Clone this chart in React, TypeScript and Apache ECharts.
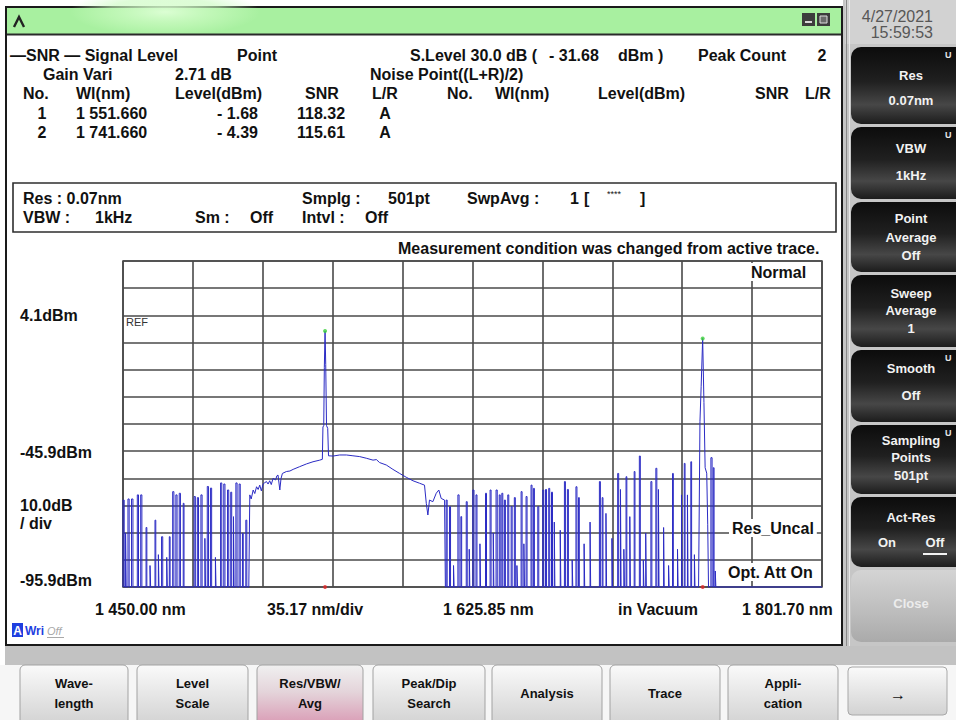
import React, { useEffect, useRef } from "react";
import * as echarts from "echarts";

// ---------- axis ranges ----------
const X_MIN = 1450.0;
const X_MAX = 1801.7;
const Y_MIN = -95.9;
const Y_MAX = 24.1;
const FLOOR = -95.9;
const X_DIVS = 10;
const Y_DIVS = 12;

// ---------- trace data ----------
// noise bursts left of the ASE hump: [start nm, end nm, level dBm]
const leftBursts: [number, number, number][] = [
  [1450.0, 1450.6, -63.9], [1451.3, 1451.6, -76.0], [1452.5, 1453.1, -63.5],
  [1454.3, 1455.0, -63.5], [1457.2, 1457.8, -62.0], [1458.9, 1459.5, -62.0],
  [1461.6, 1462.0, -74.0], [1463.6, 1463.9, -88.0], [1466.1, 1466.5, -71.3],
  [1467.8, 1468.1, -84.0], [1469.4, 1470.0, -77.4], [1472.0, 1472.3, -85.0],
  [1473.3, 1473.7, -77.4], [1475.0, 1475.6, -60.8], [1476.6, 1477.2, -62.0],
  [1478.3, 1478.9, -61.4], [1480.3, 1480.7, -65.1], [1485.8, 1486.4, -62.6],
  [1487.4, 1488.0, -63.0], [1489.2, 1489.8, -62.0], [1491.2, 1491.5, -78.0],
  [1492.4, 1493.0, -58.9], [1494.0, 1494.6, -59.5], [1496.5, 1496.8, -85.0],
  [1499.1, 1499.7, -57.6], [1500.7, 1501.3, -58.0], [1502.6, 1503.2, -60.2],
  [1504.2, 1504.7, -61.0], [1505.6, 1505.9, -70.0], [1506.8, 1507.4, -57.6],
  [1508.4, 1509.0, -58.0], [1510.1, 1510.5, -76.1], [1511.8, 1512.3, -71.3],
];

// ASE hump with the first signal peak: [nm, dBm]
const humpPoints: [number, number][] = [
  [1513.3, -95.9], [1513.8, -62.0], [1514.5, -63.5], [1515.5, -60.2], [1516.3, -61.5],
  [1517.2, -59.0], [1518.0, -60.0], [1518.8, -58.4], [1519.6, -60.5], [1520.5, -58.0],
  [1521.3, -57.5], [1522.2, -57.1], [1523.0, -58.0], [1523.8, -56.8], [1524.6, -58.2],
  [1525.5, -55.9], [1526.8, -56.5], [1527.4, -55.0], [1528.0, -54.7], [1528.9, -60.2],
  [1529.5, -56.0], [1530.2, -54.1], [1532.2, -53.4], [1534.0, -53.2], [1535.6, -52.6],
  [1538.9, -51.6], [1542.3, -50.6], [1545.6, -49.8], [1549.0, -49.2], [1550.3, -48.9],
  [1550.6, -37.0], [1551.0, -36.5], [1551.3, -15.0], [1551.66, -1.68], [1552.0, -14.0],
  [1552.4, -36.5], [1553.0, -37.5], [1553.4, -47.6], [1555.7, -47.7], [1559.0, -47.3],
  [1562.4, -47.3], [1565.7, -47.6], [1569.1, -47.9], [1572.4, -48.5], [1575.8, -49.2],
  [1577.5, -49.0], [1579.1, -50.1], [1582.5, -51.0], [1585.8, -52.6], [1589.2, -54.1],
  [1592.5, -55.5], [1595.9, -56.8], [1599.2, -57.7], [1601.7, -58.4], [1602.6, -65.1],
  [1603.4, -69.4], [1604.2, -63.9], [1605.9, -64.5], [1607.6, -61.4], [1608.9, -60.2],
  [1610.1, -63.3], [1611.8, -63.9], [1612.2, -95.9],
];

// noise bursts right of the hump
const rightBursts: [number, number, number][] = [
  [1612.6, 1613.1, -63.9], [1614.3, 1614.8, -66.3], [1616.3, 1616.6, -88.0],
  [1618.5, 1619.1, -62.0], [1620.0, 1620.4, -70.0], [1622.7, 1623.2, -64.5],
  [1624.2, 1624.5, -82.0], [1626.0, 1626.6, -60.2], [1627.6, 1628.1, -62.0],
  [1629.6, 1629.9, -80.0], [1632.4, 1632.9, -61.4], [1634.7, 1635.2, -60.2],
  [1636.3, 1636.6, -76.0], [1637.7, 1638.3, -60.2], [1639.3, 1639.8, -62.0],
  [1640.6, 1641.1, -61.4], [1641.9, 1642.4, -63.9], [1643.6, 1644.1, -62.0],
  [1645.3, 1645.8, -66.3], [1646.9, 1647.4, -63.0], [1648.2, 1648.5, -88.0],
  [1650.3, 1650.8, -60.8], [1651.7, 1652.0, -80.0], [1652.8, 1653.3, -62.6],
  [1655.3, 1655.8, -58.4], [1656.5, 1657.0, -59.6], [1658.7, 1659.2, -66.3],
  [1661.2, 1661.7, -60.2], [1662.6, 1663.1, -60.0], [1664.2, 1664.7, -59.6],
  [1665.6, 1666.1, -61.0], [1667.0, 1667.3, -72.0], [1670.0, 1670.3, -75.0],
  [1672.1, 1672.6, -57.1], [1673.6, 1674.1, -60.0], [1676.0, 1676.3, -86.0],
  [1677.9, 1678.4, -59.0], [1679.2, 1679.6, -63.0], [1682.0, 1682.3, -80.0],
  [1685.0, 1685.3, -72.0], [1689.7, 1690.2, -57.1], [1691.1, 1691.5, -63.0],
  [1693.0, 1693.3, -68.8], [1696.0, 1696.3, -78.0], [1698.9, 1699.4, -54.1],
  [1700.3, 1700.6, -60.0], [1702.0, 1702.3, -82.0], [1703.1, 1703.5, -55.3],
  [1705.0, 1705.3, -70.0], [1707.2, 1707.6, -53.4], [1709.8, 1710.3, -47.7],
  [1711.8, 1712.1, -86.0], [1713.0, 1713.3, -76.0], [1715.6, 1716.1, -57.1],
  [1718.1, 1718.6, -52.2], [1719.4, 1719.7, -60.0], [1722.0, 1722.3, -74.0],
  [1724.5, 1724.8, -88.0], [1726.5, 1726.9, -54.1], [1729.0, 1729.3, -82.0],
  [1731.0, 1731.3, -62.0], [1732.4, 1732.8, -50.4], [1734.0, 1734.3, -62.0],
  [1735.7, 1736.1, -49.8], [1737.5, 1737.8, -84.0],
];

// second signal peak: [nm, dBm]
const peak2Points: [number, number][] = [
  [1739.6, -95.9], [1740.3, -35.0], [1740.9, -22.0], [1741.66, -4.39], [1742.3, -28.0],
  [1742.9, -52.0], [1743.7, -54.0], [1744.2, -73.0], [1744.6, -95.9],
];

const tailBursts: [number, number, number][] = [
  [1745.8, 1746.4, -48.3], [1747.0, 1747.4, -52.0], [1748.0, 1748.3, -90.0],
];

// detected peaks
const peakWl: number[] = [1551.66, 1741.66];
const peakDbm: number[] = [-1.68, -4.39];

function burstPoints(list: [number, number, number][]) {
  const out: number[][] = [];
  for (const [s, e, v] of list) {
    out.push([s, FLOOR], [s, v], [e, v], [e, FLOOR]);
  }
  return out;
}

const trace: number[][] = [
  ...burstPoints(leftBursts),
  ...humpPoints.map((p) => [p[0], p[1]]),
  ...burstPoints(rightBursts),
  ...peak2Points.map((p) => [p[0], p[1]]),
  ...burstPoints(tailBursts),
  [X_MAX, FLOOR],
];

// ---------- UI helpers ----------
const F = '"Liberation Sans", Arial, sans-serif';

function txt(text: string, x: number, y: number, size = 16, o: any = {}) {
  const style: any = {
    text,
    fill: o.fill ?? "#111",
    font: `${o.italic ? "italic " : ""}${o.weight ?? "bold"} ${size}px ${F}`,
    align: o.align ?? "left",
    verticalAlign: "middle",
  };
  if (o.bg) {
    style.backgroundColor = o.bg;
    style.padding = o.pad ?? [0, 2];
  }
  return { type: "text", x, y, z: o.z ?? 20, style };
}

function rect(x: number, y: number, w: number, h: number, fill: any, o: any = {}) {
  return {
    type: "rect",
    z: o.z ?? 1,
    shape: { x, y, width: w, height: h, r: o.r ?? 0 },
    style: { fill, stroke: o.stroke ?? null, lineWidth: o.lw ?? 0 },
  };
}

function line(x1: number, y1: number, x2: number, y2: number, stroke: string, lw = 1, z = 5) {
  return { type: "line", z, shape: { x1, y1, x2, y2 }, style: { stroke, lineWidth: lw } };
}

const darkGrad = {
  type: "linear", x: 0, y: 0, x2: 0, y2: 1,
  colorStops: [
    { offset: 0, color: "#0c0c0c" },
    { offset: 0.45, color: "#202020" },
    { offset: 0.75, color: "#474747" },
    { offset: 1, color: "#1c1c1c" },
  ],
};
const closeGrad = {
  type: "linear", x: 0, y: 0, x2: 0, y2: 1,
  colorStops: [
    { offset: 0, color: "#d4d4d4" },
    { offset: 0.6, color: "#bcbcbc" },
    { offset: 1, color: "#aaaaaa" },
  ],
};
const lightGrad = {
  type: "linear", x: 0, y: 0, x2: 0, y2: 1,
  colorStops: [
    { offset: 0, color: "#fafafa" },
    { offset: 0.5, color: "#e6e6e6" },
    { offset: 1, color: "#d2d2d2" },
  ],
};
const activeGrad = {
  type: "linear", x: 0, y: 0, x2: 0, y2: 1,
  colorStops: [
    { offset: 0, color: "#f0f0f0" },
    { offset: 0.45, color: "#e4d4da" },
    { offset: 1, color: "#d99ab4" },
  ],
};

const sideButtons = [
  { y0: 47, y1: 124, lines: [["Res", 75], ["0.07nm", 100]], u: true },
  { y0: 127, y1: 199, lines: [["VBW", 148], ["1kHz", 175]], u: true },
  { y0: 202, y1: 272, lines: [["Point", 218], ["Average", 237], ["Off", 255]], u: false },
  { y0: 275, y1: 347, lines: [["Sweep", 293], ["Average", 310], ["1", 328]], u: false },
  { y0: 350, y1: 422, lines: [["Smooth", 368], ["Off", 395]], u: true },
  { y0: 425, y1: 494, lines: [["Sampling", 440], ["Points", 457], ["501pt", 475]], u: true },
  { y0: 497, y1: 567, lines: [["Act-Res", 517]], u: false },
];

const bottomButtons = [
  { x0: 20, x1: 128, lines: ["Wave-", "length"], active: false },
  { x0: 137, x1: 248, lines: ["Level", "Scale"], active: false },
  { x0: 257, x1: 363, lines: ["Res/VBW/", "Avg"], active: true },
  { x0: 373, x1: 485, lines: ["Peak/Dip", "Search"], active: false },
  { x0: 492, x1: 602, lines: ["Analysis"], active: false },
  { x0: 610, x1: 720, lines: ["Trace"], active: false },
  { x0: 728, x1: 838, lines: ["Appli-", "cation"], active: false },
];

function buildGraphic() {
  const g: any[] = [];
  // page & panels
  g.push(rect(0, 0, 956, 720, "#ffffff", { z: 0 }));
  g.push(rect(843, 0, 113, 666, "#c6c6c6", { z: 1 }));
  g.push(rect(845, 0, 111, 44, "#d2d2d2", { z: 1 }));
  g.push(rect(5, 646, 951, 19, "#c2c2c2", { z: 1 }));
  g.push(rect(0, 665, 956, 55, "#f6f6f6", { z: 1 }));

  // main window
  g.push(rect(6, 7, 836, 638, "#ffffff", { z: 1, stroke: "#1a1a1a", lw: 2 }));
  g.push(rect(7, 8, 834, 26, "#a8f0a0", { z: 2 }));
  g.push({
    type: "ellipse", z: 3,
    shape: { cx: 165, cy: 12, rx: 95, ry: 24 },
    style: {
      fill: {
        type: "radial", x: 0.5, y: 0.5, r: 0.5,
        colorStops: [
          { offset: 0, color: "rgba(222,255,214,0.95)" },
          { offset: 0.6, color: "rgba(200,250,190,0.6)" },
          { offset: 1, color: "rgba(200,250,190,0)" },
        ],
      },
    },
  });
  g.push(line(7, 34.5, 841, 34.5, "#2a2a2a", 2));
  g.push({
    type: "polyline", z: 6,
    shape: { points: [[14, 27], [19, 17], [24, 27]] },
    style: { stroke: "#222", lineWidth: 2.4, fill: null },
  });
  // window buttons
  g.push(rect(802, 13, 13, 13, "#3c3c3c", { z: 5 }));
  g.push(rect(805, 21, 7, 2, "#d8d8d8", { z: 6 }));
  g.push(rect(817, 13, 13, 13, "#3c3c3c", { z: 5 }));
  g.push(rect(820, 16, 7, 7, "#6a6a6a", { z: 6, stroke: "#dcdcdc", lw: 1 }));
  // separator between window and side panel
  g.push(line(846.5, 0, 846.5, 646, "#8a8a8a", 1));
  g.push(line(849.5, 0, 849.5, 646, "#eaeaea", 1));

  // header rows
  const r1 = 55, r2 = 74, r3 = 93, r4 = 113, r5 = 132;
  g.push(txt("—SNR — Signal Level", 10, r1));
  g.push(txt("Point", 237, r1));
  g.push(txt("S.Level 30.0 dB (", 410, r1));
  g.push(txt("- 31.68", 549, r1));
  g.push(txt("dBm )", 618, r1));
  g.push(txt("Peak Count", 698, r1));
  g.push(txt("2", 822, r1, 16, { align: "center" }));

  g.push(txt("Gain Vari", 43, r2));
  g.push(txt("2.71 dB", 175, r2));
  g.push(txt("Noise Point((L+R)/2)", 370, r2));

  g.push(txt("No.", 23, r3));
  g.push(txt("Wl(nm)", 76, r3));
  g.push(txt("Level(dBm)", 175, r3));
  g.push(txt("SNR", 305, r3));
  g.push(txt("L/R", 372, r3));
  g.push(txt("No.", 447, r3));
  g.push(txt("Wl(nm)", 495, r3));
  g.push(txt("Level(dBm)", 598, r3));
  g.push(txt("SNR", 755, r3));
  g.push(txt("L/R", 805, r3));

  g.push(txt("1", 42, r4, 16, { align: "center" }));
  g.push(txt("1 551.660", 76, r4));
  g.push(txt("- 1.68", 258, r4, 16, { align: "right" }));
  g.push(txt("118.32", 297, r4));
  g.push(txt("A", 385, r4, 16, { align: "center" }));
  g.push(txt("2", 42, r5, 16, { align: "center" }));
  g.push(txt("1 741.660", 76, r5));
  g.push(txt("- 4.39", 258, r5, 16, { align: "right" }));
  g.push(txt("115.61", 297, r5));
  g.push(txt("A", 385, r5, 16, { align: "center" }));

  // settings box
  g.push(rect(13, 183, 823, 49, null, { z: 4, stroke: "#2e2e2e", lw: 1.6 }));
  g.push(txt("Res : 0.07nm", 23, 198));
  g.push(txt("VBW :", 23, 217));
  g.push(txt("1kHz", 95, 217));
  g.push(txt("Sm :", 195, 217));
  g.push(txt("Off", 250, 217));
  g.push(txt("Smplg :", 302, 198));
  g.push(txt("501pt", 388, 198));
  g.push(txt("Intvl :", 302, 217));
  g.push(txt("Off", 365, 217));
  g.push(txt("SwpAvg :", 467, 198));
  g.push(txt("1", 570, 198));
  g.push(txt("[", 584, 198));
  g.push(txt("****", 607, 194, 9, { weight: "normal" }));
  g.push(txt("]", 640, 198));

  g.push(txt("Measurement condition was changed from active trace.", 398, 248));

  // plot annotations
  g.push(txt("Normal", 749, 272, 16, { bg: "#ffffff", pad: [1, 2] }));
  g.push(txt("REF", 126, 322, 11, { weight: "normal", fill: "#333" }));
  g.push(txt("Res_Uncal", 729, 528, 16, { bg: "#ffffff", pad: [1, 3] }));
  g.push(txt("Opt. Att On", 725, 572, 16, { bg: "#ffffff", pad: [1, 3] }));

  g.push(txt("4.1dBm", 20, 315));
  g.push(txt("-45.9dBm", 20, 452));
  g.push(txt("10.0dB", 20, 505));
  g.push(txt("/ div", 20, 523));
  g.push(txt("-95.9dBm", 20, 580));

  g.push(txt("1 450.00 nm", 95, 609));
  g.push(txt("35.17 nm/div", 267, 609));
  g.push(txt("1 625.85 nm", 443, 609));
  g.push(txt("in Vacuum", 618, 609));
  g.push(txt("1 801.70 nm", 742, 609));

  // trace indicator
  g.push(rect(12, 623, 11, 14, "#1f3fe0", { z: 6 }));
  g.push(txt("A", 17.5, 630.5, 12, { align: "center", fill: "#ffffff" }));
  g.push(txt("Wri", 25, 630.5, 12, { fill: "#1f3fe0" }));
  g.push(txt("Off", 47, 631, 11, { weight: "normal", italic: true, fill: "#a8a8a8" }));
  g.push(line(47, 637.5, 64, 637.5, "#a8a8a8", 1, 20));

  // side panel
  g.push(txt("4/27/2021", 933, 16, 16, { weight: "normal", align: "right", fill: "#575757" }));
  g.push(txt("15:59:53", 933, 32, 16, { weight: "normal", align: "right", fill: "#575757" }));
  for (const b of sideButtons) {
    g.push(rect(851, b.y0, 110, b.y1 - b.y0, darkGrad, { z: 3, r: [10, 0, 0, 10] }));
    for (const [s, y] of b.lines as any) g.push(txt(s, 911, y, 13, { fill: "#f2f2f2", align: "center" }));
    if (b.u) g.push(txt("U", 945, b.y0 + 8, 9, { fill: "#e6e6e6" }));
  }
  g.push(txt("On", 887, 542, 13, { fill: "#f2f2f2", align: "center" }));
  g.push(txt("Off", 935, 542, 13, { fill: "#f2f2f2", align: "center" }));
  g.push(line(923, 554, 947, 554, "#f2f2f2", 2, 20));
  g.push(rect(851, 570, 110, 72, closeGrad, { z: 3, r: [10, 0, 0, 10] }));
  g.push(txt("Close", 911, 603, 13, { fill: "#ececec", align: "center" }));

  // bottom buttons
  for (const b of bottomButtons) {
    g.push(rect(b.x0, 665, b.x1 - b.x0, 60, b.active ? activeGrad : lightGrad, {
      z: 3, r: [5, 5, 0, 0], stroke: "#a2a2a2", lw: 1,
    }));
    const cx = (b.x0 + b.x1) / 2;
    if (b.lines.length === 1) g.push(txt(b.lines[0], cx, 693, 13, { align: "center" }));
    else {
      g.push(txt(b.lines[0], cx, 683, 13, { align: "center" }));
      g.push(txt(b.lines[1], cx, 703, 13, { align: "center" }));
    }
  }
  g.push(rect(848, 667, 99, 48, lightGrad, { z: 3, r: [4, 4, 4, 4], stroke: "#a8a8a8", lw: 1 }));
  g.push(txt("→", 898, 694, 16, { align: "center" }));

  return g;
}

export default function App() {
  const ref = useRef<HTMLDivElement>(null);
  useEffect(() => {
    if (!ref.current) return;
    const chart = echarts.init(ref.current, undefined, { renderer: "svg" });
    const grid = { left: 123, top: 261, width: 699, height: 326 };
    chart.setOption({
      animation: false,
      backgroundColor: "#ffffff",
      graphic: { elements: buildGraphic() },
      grid: {
        ...grid,
        show: true,
        borderColor: "#4a4a4a",
        borderWidth: 1.6,
        backgroundColor: "transparent",
        z: 4,
      },
      xAxis: [
        { type: "value", min: X_MIN, max: X_MAX, show: false, position: "top" },
        {
          type: "value", min: 0, max: X_DIVS, interval: 1, position: "bottom", z: 4,
          axisLine: { show: false }, axisTick: { show: false }, axisLabel: { show: false },
          splitLine: { show: true, lineStyle: { color: "#4a4a4a", width: 1.6 } },
        },
      ],
      yAxis: [
        { type: "value", min: Y_MIN, max: Y_MAX, show: false, position: "right" },
        {
          type: "value", min: 0, max: Y_DIVS, interval: 1, position: "left", z: 4,
          axisLine: { show: false }, axisTick: { show: false }, axisLabel: { show: false },
          splitLine: { show: true, lineStyle: { color: "#4a4a4a", width: 1.6 } },
        },
      ],
      series: [
        {
          type: "line", xAxisIndex: 0, yAxisIndex: 0, z: 6,
          data: trace, symbol: "none", clip: false,
          lineStyle: { color: "#2b2bc4", width: 1 },
        },
        {
          type: "scatter", xAxisIndex: 0, yAxisIndex: 0, z: 7,
          data: peakWl.map((w, i) => [w, peakDbm[i]]),
          symbolSize: 4, itemStyle: { color: "#38d038" },
        },
        {
          type: "scatter", xAxisIndex: 0, yAxisIndex: 0, z: 7,
          data: peakWl.map((w) => [w, FLOOR]),
          symbolSize: 4, itemStyle: { color: "#e02828" },
        },
      ],
    });
    return () => chart.dispose();
  }, []);
  return (
    <div
      ref={ref}
      style={{ position: "fixed", left: 0, top: 0, width: 956, height: 720 }}
    />
  );
}
